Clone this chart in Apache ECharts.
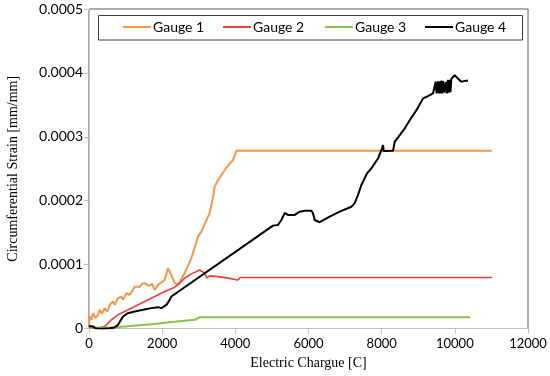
<!DOCTYPE html>
<html>
<head>
<meta charset="utf-8">
<script src="https://cdn.jsdelivr.net/npm/echarts@6/dist/echarts.min.js"></script>
<style>html,body{margin:0;padding:0;background:#fff;}#c{width:550px;height:376px;}</style>
</head>
<body>
<div id="c"></div>
<script>
// ---- data ----
const seriesNames = ['Gauge 1', 'Gauge 2', 'Gauge 3', 'Gauge 4'];
const xTicks = [0, 2000, 4000, 6000, 8000, 10000, 12000];
const yTicks = [0, 0.0001, 0.0002, 0.0003, 0.0004, 0.0005];

const g1X = [0, 19, 66, 109, 175, 246, 292, 355, 429, 503, 566, 656, 703, 793, 886, 930, 1022, 1112, 1203, 1249, 1386, 1450, 1523, 1600, 1659, 1720, 1796, 1886, 2069, 2159, 2269, 2343, 2433, 2616, 2799, 2980, 3072, 3209, 3299, 3390, 3436, 3526, 3619, 3709, 3846, 3936, 4029, 11016];
const g1Y = [3.1e-6, 18.8e-6, 13.6e-6, 24e-6, 16.3e-6, 21.4e-6, 29.2e-6, 23e-6, 31.9e-6, 26.6e-6, 37e-6, 42.2e-6, 37e-6, 47.5e-6, 50e-6, 44.8e-6, 55.3e-6, 52.7e-6, 60.5e-6, 65.6e-6, 65e-6, 70e-6, 70.9e-6, 68e-6, 66.7e-6, 70e-6, 60.5e-6, 68.3e-6, 76e-6, 94.4e-6, 81.3e-6, 70.9e-6, 68.3e-6, 87e-6, 110e-6, 143.8e-6, 151.6e-6, 169.8e-6, 180.3e-6, 206e-6, 222e-6, 232e-6, 240e-6, 248e-6, 258e-6, 263.6e-6, 278e-6, 278e-6];

const g2X = [0, 240, 429, 612, 793, 976, 1249, 1523, 1796, 2069, 2343, 2479, 2616, 2799, 3026, 3163, 3217, 3299, 3526, 3800, 4073, 4100, 4133, 11016];
const g2Y = [2e-6, 1e-6, 3e-6, 13.6e-6, 21.4e-6, 26.6e-6, 34.4e-6, 42.2e-6, 50e-6, 57.8e-6, 64.7e-6, 70.9e-6, 78.8e-6, 85.5e-6, 91.6e-6, 86.6e-6, 79e-6, 82.3e-6, 81.2e-6, 78.8e-6, 76e-6, 73e-6, 79.7e-6, 79.7e-6];

const g3X = [0, 612, 976, 1386, 1842, 2252, 2616, 2890, 3026, 10413];
const g3Y = [1e-6, 1.6e-6, 3e-6, 5e-6, 7.3e-6, 10e-6, 12e-6, 13.6e-6, 17.8e-6, 17.8e-6];

const g4X = [0, 109, 175, 246, 400, 566, 703, 793, 930, 1066, 1249, 1476, 1705, 1886, 1978, 2116, 2206, 2252, 5030, 5166, 5259, 5350, 5440, 5623, 5760, 5896, 6079, 6123, 6169, 6305, 6579, 6852, 7172, 7262, 7353, 7446, 7599, 7719, 7810, 7900, 7993, 8037, 8056, 8310, 8356, 8493, 8629, 8766, 8950, 9130, 9267, 9403, 9477, 9500, 9540, 9565, 9587, 9610, 9633, 9655, 9677, 9710, 9750, 9780, 9813, 9835, 9859, 9880, 9905, 9950, 9996, 10087, 10180, 10270, 10360];
const g4Y = [4e-6, 3e-6, 0.5e-6, 0, -0.5e-6, 0.5e-6, 1.5e-6, 5.8e-6, 18.8e-6, 24e-6, 26.6e-6, 29.2e-6, 31.9e-6, 33.4e-6, 31.9e-6, 37e-6, 44.8e-6, 50e-6, 161e-6, 162e-6, 169.8e-6, 181e-6, 177.7e-6, 177.7e-6, 182.8e-6, 184.4e-6, 184.4e-6, 180.3e-6, 169.8e-6, 166.3e-6, 175e-6, 182.8e-6, 190.6e-6, 196e-6, 209e-6, 224.5e-6, 242.8e-6, 250.6e-6, 258.4e-6, 266e-6, 279e-6, 287e-6, 277.7e-6, 278e-6, 292e-6, 302.7e-6, 313e-6, 326e-6, 341.7e-6, 360e-6, 363.6e-6, 367.8e-6, 386e-6, 368e-6, 387e-6, 368e-6, 387e-6, 368e-6, 388e-6, 368e-6, 387e-6, 369e-6, 386e-6, 368e-6, 389e-6, 369e-6, 389e-6, 370e-6, 391e-6, 391e-6, 396.4e-6, 391e-6, 386e-6, 387.5e-6, 388e-6];

const colors = ['#f79646', '#e8413c', '#8cbf45', '#000000'];
const widths = [2, 1.6, 2, 2];
const xs = [g1X, g2X, g3X, g4X];
const ys = [g1Y, g2Y, g3Y, g4Y];

const chart = echarts.init(document.getElementById('c'), null, {renderer: 'canvas'});

const series = seriesNames.map((n, i) => ({
  name: n,
  type: 'line',
  data: xs[i].map((x, k) => [x, ys[i][k]]),
  symbol: 'none',
  showSymbol: false,
  lineStyle: {color: colors[i], width: widths[i]},
  itemStyle: {color: colors[i]},
  z: 2 + (i === 3 ? 1 : 0),
  animation: false
}));

const legendLefts = [123, 223, 325, 425];
const legends = seriesNames.map((n, i) => ({
  data: [{name: n, icon: 'rect', itemStyle: {color: colors[i]}}],
  left: legendLefts[i],
  top: 20,
  itemWidth: 28,
  itemHeight: 2,
  itemGap: 0,
  padding: 0,
  textStyle: {fontFamily: 'Lato', fontSize: 14, color: '#000', padding: [0, 0, 0, -3]},
  selectedMode: false
}));

chart.setOption({
  animation: false,
  backgroundColor: '#fff',
  color: colors,
  grid: {left: 89, right: 22, top: 9, bottom: 47.5, show: true, borderColor: '#595959', borderWidth: 1,
    backgroundColor: 'transparent', outerBoundsMode: 'none', containLabel: false},
  graphic: [{
    type: 'rect', z: 3,
    shape: {x: 98.5, y: 15.5, width: 424, height: 24.5},
    style: {fill: '#fff', stroke: '#404040', lineWidth: 1}
  }],
  legend: legends,
  xAxis: {
    type: 'value',
    min: xTicks[0], max: xTicks[xTicks.length - 1], interval: 2000,
    name: 'Electric Chargue [C]',
    nameLocation: 'middle', nameGap: 28,
    nameTextStyle: {fontFamily: 'Liberation Serif', fontSize: 14, color: '#000'},
    axisLine: {show: true, lineStyle: {color: '#bfbfbf', width: 1}},
    axisTick: {show: true, length: 5, lineStyle: {color: '#bfbfbf'}},
    axisLabel: {fontFamily: 'Lato', fontSize: 13, color: '#000', margin: 9,
      formatter: v => String(v)},
    splitLine: {show: false}
  },
  yAxis: {
    type: 'value',
    min: yTicks[0], max: yTicks[yTicks.length - 1], interval: 0.0001,
    name: 'Circumferential Strain [mm/mm]',
    nameLocation: 'middle', nameGap: 69,
    nameTextStyle: {fontFamily: 'Liberation Serif', fontSize: 14, color: '#000'},
    axisLine: {show: true, lineStyle: {color: '#bfbfbf', width: 1}},
    axisTick: {show: true, length: 5, lineStyle: {color: '#bfbfbf'}},
    axisLabel: {fontFamily: 'Lato', fontSize: 14, color: '#000', margin: 6,
      formatter: v => v === 0 ? '0' : v.toFixed(4)},
    splitLine: {show: false}
  },
  series: series
});
</script>
</body>
</html>
